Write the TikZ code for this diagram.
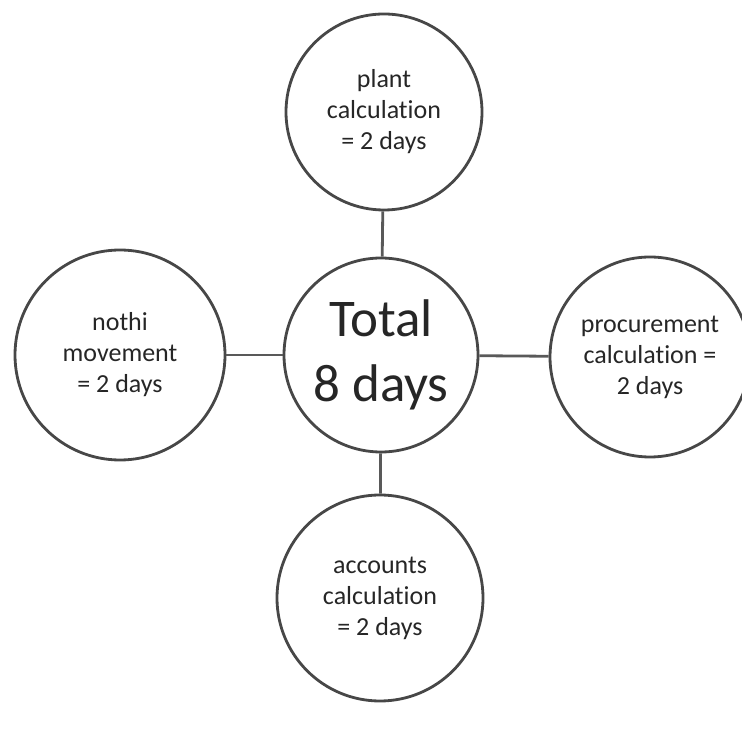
\documentclass[tikz,border=0pt]{standalone}
\usepackage{fontspec}
\setmainfont{Carlito}[RawFeature={-liga;-clig;-dlig}]
\begin{document}
\begin{tikzpicture}[x=0.5pt,y=0.5pt]
            \tikzset{bubble/.style={circle,draw=black!72,line width=1.4pt,align=center,inner sep=0pt,text=black!85,font=\fontsize{13}{15.5}\selectfont},
                     link/.style={draw=black!65,line width=1.4pt}}
            \useasboundingbox (0,0) rectangle (742,744);
            \node [bubble,minimum size=97pt,font=\fontsize{26.5}{32.5}\selectfont] (C) at (381,389) {Total\\8 days};
            \node [bubble,minimum size=98pt] (P) at (384,632) {plant\\calculation\\= 2 days};
            \node [bubble,minimum size=105pt] (N) at (120,389) {nothi\\movement\\= 2 days};
            \node [bubble,minimum size=100pt] (R) at (650,387) {procurement\\calculation =\\2 days};
            \node [bubble,minimum size=103pt] (A) at (380,146) {accounts\\calculation\\= 2 days};
            \draw [link] (C) -- (P);
            \draw [link] (C) -- (N);
            \draw [link] (C) -- (R);
            \draw [link] (C) -- (A);
        \end{tikzpicture}
\end{document}
